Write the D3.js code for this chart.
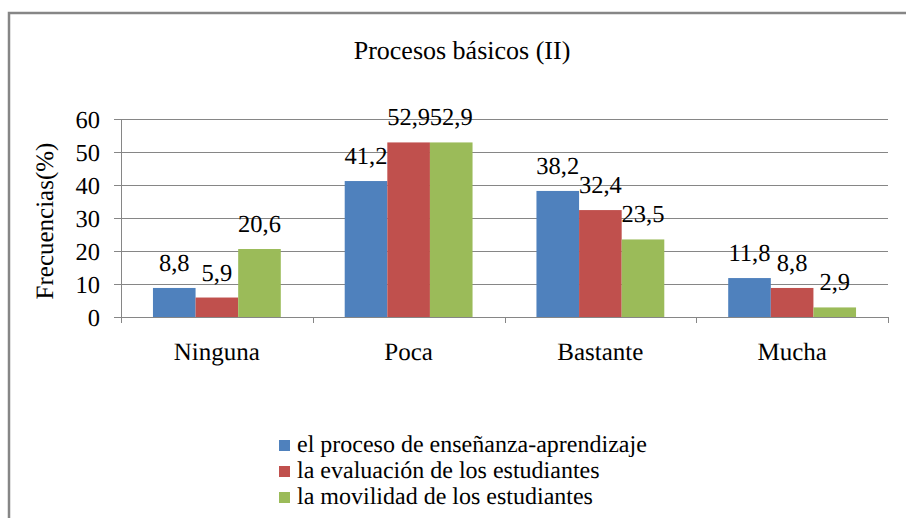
<!DOCTYPE html>
<html>
<head>
<meta charset="utf-8">
<script src="https://cdn.jsdelivr.net/npm/d3@7"></script>
<style>
  html, body { margin: 0; padding: 0; background: #fff; }
  svg { display: block; }
  svg text { font-family: "Liberation Serif", "Times New Roman", serif; text-rendering: geometricPrecision; }
</style>
</head>
<body>
<svg id="chart" width="906" height="518"></svg>
<script>
// Categories, series and values
const categories = ["Ninguna", "Poca", "Bastante", "Mucha"];
const seriesNames = [
  "el proceso de enseñanza-aprendizaje",
  "la evaluación de los estudiantes",
  "la movilidad de los estudiantes"
];
const seriesEnsenanza = [8.8, 41.2, 38.2, 11.8];
const seriesEvaluacion = [5.9, 52.9, 32.4, 8.8];
const seriesMovilidad = [20.6, 52.9, 23.5, 2.9];
const yTicks = [0, 10, 20, 30, 40, 50, 60];
const seriesColors = ["#4F81BD", "#C0504D", "#9BBB59"];

const seriesValues = [seriesEnsenanza, seriesEvaluacion, seriesMovilidad];
const fmt = v => String(v).replace(".", ",");
const FONT = "Liberation Serif";

const svg = d3.select("#chart");

// Outer chart frame (runs off the right and bottom edges)
svg.append("rect")
  .attr("x", 9).attr("y", 13)
  .attr("width", 1000).attr("height", 1000)
  .attr("fill", "#fff")
  .attr("stroke", "#868686").attr("stroke-width", 2.5);

// Plot geometry
const plot = { left: 121, right: 888, top: 119, bottom: 317 };

const x0 = d3.scaleBand()
  .domain(categories)
  .range([plot.left, plot.right])
  .paddingInner(0).paddingOuter(0);

const x1 = d3.scaleBand()
  .domain(d3.range(seriesNames.length))
  .range([0, x0.bandwidth()])
  .paddingInner(0).paddingOuter(0.75);

const y = d3.scaleLinear().domain([0, 60]).range([plot.bottom, plot.top]);

// Horizontal gridlines with small outside tick marks
svg.append("g").selectAll("line")
  .data(yTicks)
  .join("line")
  .attr("x1", plot.left - 7).attr("x2", plot.right)
  .attr("y1", d => Math.round(y(d)) + 0.5).attr("y2", d => Math.round(y(d)) + 0.5)
  .attr("stroke", "#868686").attr("stroke-width", 1);

// Vertical value axis line
svg.append("line")
  .attr("x1", plot.left + 0.5).attr("x2", plot.left + 0.5)
  .attr("y1", plot.top).attr("y2", plot.bottom)
  .attr("stroke", "#868686");

// Y tick labels
svg.append("g").selectAll("text")
  .data(yTicks)
  .join("text")
  .attr("x", plot.left - 21)
  .attr("y", d => y(d))
  .attr("dy", "0.35em")
  .attr("text-anchor", "end")
  .attr("font-family", FONT)
  .attr("font-size", 24.5)
  .attr("fill", "#000")
  .text(d => d);

// Category axis with ticks between groups
const xAxis = d3.axisBottom(x0).tickSize(0).tickFormat("");
svg.append("g")
  .attr("transform", `translate(0,${plot.bottom})`)
  .call(xAxis)
  .call(g => g.select(".domain").attr("stroke", "#868686"));

const boundaries = categories.map(c => x0(c)).concat([plot.right]);
svg.append("g").selectAll("line")
  .data(boundaries)
  .join("line")
  .attr("x1", d => Math.round(d) + 0.5).attr("x2", d => Math.round(d) + 0.5)
  .attr("y1", plot.bottom).attr("y2", plot.bottom + 6)
  .attr("stroke", "#868686");

// Category labels
svg.append("g").selectAll("text")
  .data(categories)
  .join("text")
  .attr("x", d => x0(d) + x0.bandwidth() / 2)
  .attr("y", 360)
  .attr("text-anchor", "middle")
  .attr("font-family", FONT)
  .attr("font-size", 25)
  .attr("fill", "#000")
  .text(d => d);

// Bars
const groups = svg.append("g").selectAll("g")
  .data(categories)
  .join("g")
  .attr("transform", d => `translate(${x0(d)},0)`);

groups.selectAll("rect")
  .data((c, i) => seriesValues.map((vals, s) => ({ s, v: vals[i] })))
  .join("rect")
  .attr("x", d => x1(d.s))
  .attr("width", x1.bandwidth())
  .attr("y", d => y(d.v))
  .attr("height", d => y(0) - y(d.v))
  .attr("fill", d => seriesColors[d.s]);

// Value labels above bars
groups.selectAll("text")
  .data((c, i) => seriesValues.map((vals, s) => ({ s, v: vals[i] })))
  .join("text")
  .attr("x", d => x1(d.s) + x1.bandwidth() / 2)
  .attr("y", d => y(d.v) - 17)
  .attr("text-anchor", "middle")
  .attr("font-family", FONT)
  .attr("font-size", 24.5)
  .attr("fill", "#000")
  .text(d => fmt(d.v));

// Chart title
svg.append("text")
  .attr("x", 462).attr("y", 59)
  .attr("text-anchor", "middle")
  .attr("font-family", FONT)
  .attr("font-size", 26)
  .attr("fill", "#000")
  .text("Procesos básicos (II)");

// Value axis title
svg.append("text")
  .attr("transform", "translate(53,221) rotate(-90)")
  .attr("text-anchor", "middle")
  .attr("font-family", FONT)
  .attr("font-size", 25)
  .attr("fill", "#000")
  .text("Frecuencias(%)");

// Legend
const legend = svg.append("g").attr("transform", "translate(279,440)");
const rows = legend.selectAll("g")
  .data(seriesNames)
  .join("g")
  .attr("transform", (d, i) => `translate(0,${i * 26})`);
rows.append("rect")
  .attr("width", 11).attr("height", 11)
  .attr("fill", (d, i) => seriesColors[i]);
rows.append("text")
  .attr("x", 18).attr("y", 12)
  .attr("font-family", FONT)
  .attr("font-size", 24)
  .attr("fill", "#000")
  .text(d => d);
</script>
</body>
</html>
